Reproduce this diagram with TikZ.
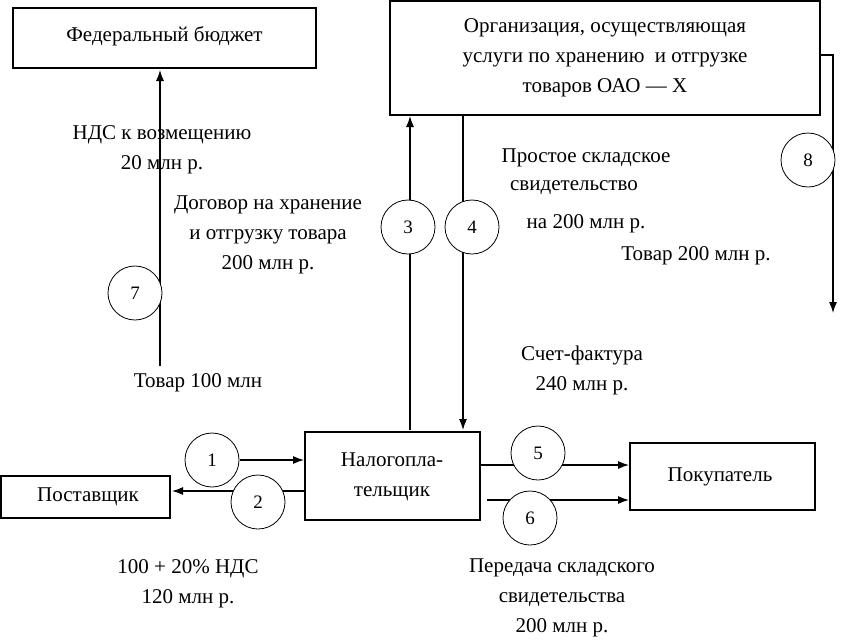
\documentclass[tikz,border=0pt]{standalone}
\usepackage{fontspec}
\setmainfont{Liberation Serif}
\usetikzlibrary{arrows.meta}
\begin{document}
\begin{tikzpicture}[x=1pt,y=-1pt,
  box/.style={draw,line width=1.6pt,inner sep=0pt},
  num/.style={draw,circle,fill=white,minimum size=54pt,inner sep=0pt,line width=0.8pt,font=\fontsize{19}{22}\selectfont},
  lbl/.style={align=center,font=\fontsize{21}{30}\selectfont,inner sep=0pt},
  arr/.style={line width=1.2pt,-{Latex[length=11pt,width=8pt]}},
  ln/.style={line width=1.2pt}]
\useasboundingbox (0,0) rectangle (846,643);
% boxes
\draw[box] (13,8) rectangle (316,68);
\node[lbl] (fb) at (164.5,36) {Федеральный бюджет};
\draw[box] (390,1) rectangle (820,115);
\node[lbl] (org) at (605,58) {Организация, осуществляющая\\услуги по хранению\ \ и отгрузке\\товаров ОАО — Х};
\draw[box] (305,432) rectangle (480,520);
\node[lbl] (np) at (392,477) {Налогопла-\\тельщик};
\draw[box] (1,476) rectangle (170,518);
\node[lbl] (post) at (88,497) {Поставщик};
\draw[box] (630,443) rectangle (815,510);
\node[lbl] (pok) at (720,477) {Покупатель};
% coordinates
\coordinate (a7s) at (160,366); \coordinate (a7e) at (160,70);
\coordinate (a3s) at (410,430); \coordinate (a3e) at (410,116);
\coordinate (a4s) at (463,116); \coordinate (a4e) at (463,430);
\coordinate (b1) at (820,55); \coordinate (b2) at (833,55); \coordinate (b3) at (833,313);
\coordinate (a1s) at (240,460); \coordinate (a1e) at (304,460);
\coordinate (a2s) at (304,491); \coordinate (a2e) at (172,491);
\coordinate (a5s) at (481,465); \coordinate (a5e) at (629,465);
\coordinate (a6s) at (487,500); \coordinate (a6e) at (629,500);
% connectors
\draw[arr] (a7s) -- (a7e);
\draw[arr] (a3s) -- (a3e);
\draw[arr] (a4s) -- (a4e);
\draw[arr] (b1) -- (b2) -- (b3);
\draw[arr] (a1s) -- (a1e);
\draw[arr] (a2s) -- (a2e);
\draw[arr] (a5s) -- (a5e);
\draw[arr] (a6s) -- (a6e);
% circles
\node[num] (c7) at (135,293) {7};
\node[num] (c3) at (408,227) {3};
\node[num] (c4) at (472,227) {4};
\node[num] (c8) at (808,160) {8};
\node[num] (c1) at (212,460) {1};
\node[num] (c2) at (258,502) {2};
\node[num] (c5) at (538,453) {5};
\node[num] (c6) at (530,518) {6};
% labels
\node[lbl] (t1) at (162,150) {НДС к возмещению\\20 млн р.};
\node[lbl] (t2) at (268,235) {Договор на хранение\\и отгрузку товара\\200 млн р.};
\node[lbl] (t3) at (198,383) {Товар 100 млн};
\node[lbl] (t4) at (586,158) {Простое складское};
\node[lbl] (t5) at (574,188) {свидетельство};
\node[lbl] (t6) at (586,224) {на 200 млн р.};
\node[lbl] (t7) at (696,256) {Товар 200 млн р.};
\node[lbl] (t8) at (582,370) {Счет-фактура\\240 млн р.};
\node[lbl] (t9) at (188,584) {100 + 20\% НДС\\120 млн р.};
\node[lbl] (t10) at (562,598) {Передача складского\\свидетельства\\200 млн р.};
\end{tikzpicture}
\end{document}
